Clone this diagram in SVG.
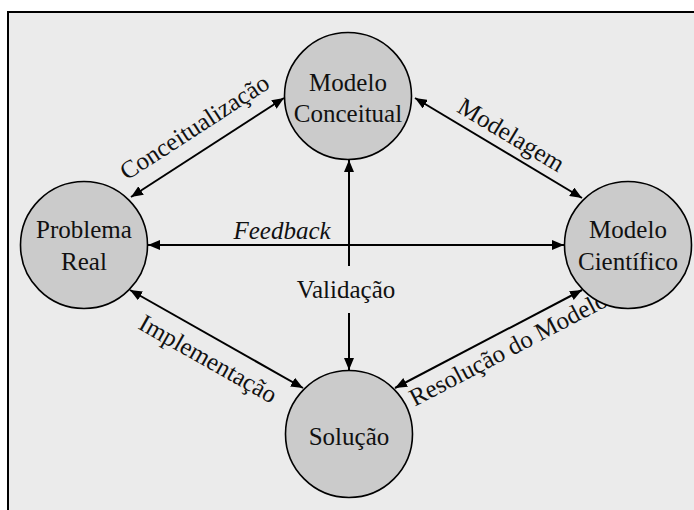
<svg xmlns="http://www.w3.org/2000/svg" width="694" height="510" viewBox="0 0 694 510">
<style>
.node{fill:#cbcbcb;stroke:#000;stroke-width:1.6}
.t{font-family:"Liberation Serif","Times New Roman",serif;font-size:25px;fill:#111;text-anchor:middle}
.c{stroke:#000;stroke-width:2;fill:none}
</style>
<defs>
<marker id="ah" viewBox="0 0 12 10" refX="12" refY="5" markerWidth="12" markerHeight="10" markerUnits="userSpaceOnUse" orient="auto-start-reverse">
<path d="M0,0 L12,5 L0,10 Z" fill="#000"/>
</marker>
</defs>
<rect x="8" y="12" width="700" height="520" fill="#ebebeb" stroke="#000" stroke-width="2"/>
<g id="connectors">
<line class="c" x1="131" y1="197" x2="284" y2="98" marker-start="url(#ah)" marker-end="url(#ah)"/>
<line class="c" x1="415" y1="98" x2="582" y2="198" marker-start="url(#ah)" marker-end="url(#ah)"/>
<line class="c" x1="148" y1="245" x2="564" y2="245" marker-start="url(#ah)" marker-end="url(#ah)"/>
<line class="c" x1="349" y1="266" x2="349" y2="160" marker-end="url(#ah)"/>
<line class="c" x1="349" y1="313" x2="349" y2="370" marker-end="url(#ah)"/>
<line class="c" x1="130" y1="290" x2="303" y2="388" marker-start="url(#ah)" marker-end="url(#ah)"/>
<line class="c" x1="582" y1="290" x2="395" y2="388" marker-start="url(#ah)" marker-end="url(#ah)"/>
<text class="t" transform="translate(199,134) rotate(-33)">Conceitualização</text>
<text class="t" transform="translate(507,142) rotate(31)">Modelagem</text>
<text class="t" x="282" y="239" font-style="italic">Feedback</text>
<text class="t" x="346" y="298">Validação</text>
<text class="t" transform="translate(204,366) rotate(29.5)">Implementação</text>
<text class="t" transform="translate(512,356) rotate(-27.6)">Resolução do Modelo</text>
</g>
<g id="modelo-conceitual">
<circle class="node" cx="348" cy="96" r="63.5"/>
<text class="t" x="348" y="91">Modelo</text>
<text class="t" x="348" y="122">Conceitual</text>
</g>
<g id="problema-real">
<circle class="node" cx="84" cy="245" r="63.5"/>
<text class="t" x="84" y="238">Problema</text>
<text class="t" x="84" y="270">Real</text>
</g>
<g id="modelo-cientifico">
<circle class="node" cx="628" cy="245" r="63.5"/>
<text class="t" x="628" y="238">Modelo</text>
<text class="t" x="628" y="270">Científico</text>
</g>
<g id="solucao">
<circle class="node" cx="349" cy="434" r="63.5"/>
<text class="t" x="349" y="445">Solução</text>
</g>
</svg>
